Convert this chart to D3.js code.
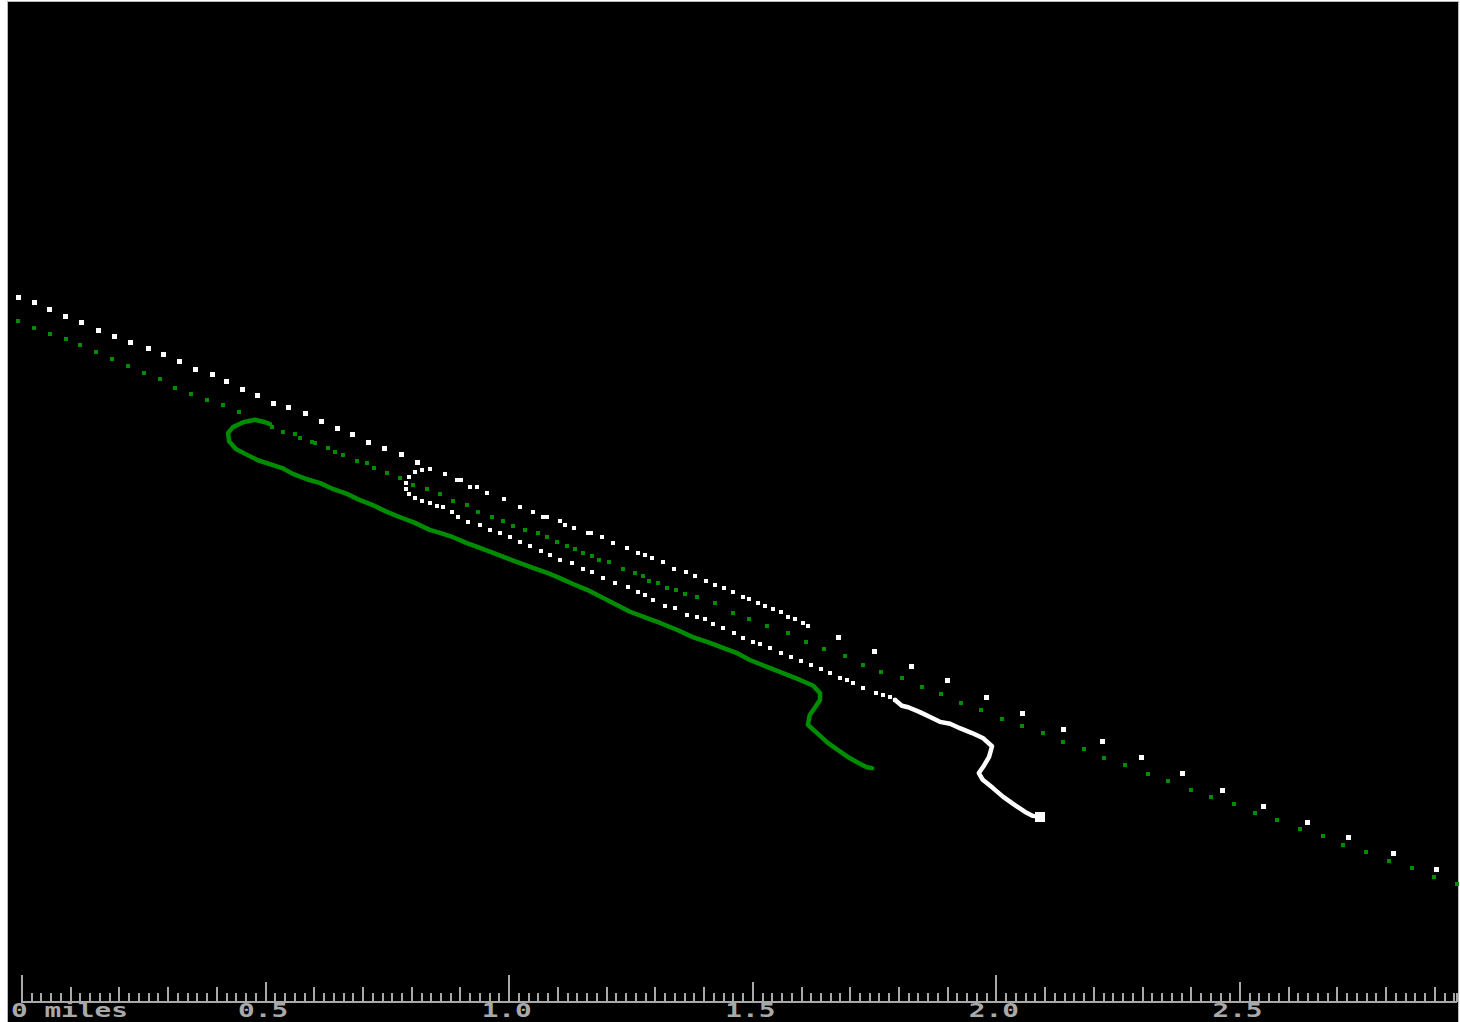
<!DOCTYPE html>
<html>
<head>
<meta charset="utf-8">
<title>Track plot</title>
<script src="https://cdn.jsdelivr.net/npm/d3@7"></script>
<style>
  html, body { margin: 0; padding: 0; background: #fff; }
  svg { display: block; }
</style>
</head>
<body>
<script>
// Positions are [miles east, miles north] measured from the scale bar origin.

// White unit: sparse fixes before and after the pass, dense fixes on the pass, final leg
const whiteRouteA = [[-0.008,1.445],[0.025,1.435],[0.057,1.422],[0.090,1.408],[0.123,1.394],[0.156,1.379],[0.189,1.365],[0.222,1.353],[0.259,1.342],[0.291,1.328],[0.324,1.314],[0.357,1.299],[0.390,1.287],[0.419,1.273],[0.452,1.258],[0.484,1.244],[0.517,1.229],[0.548,1.221],[0.581,1.207],[0.614,1.192],[0.647,1.178],[0.679,1.164],[0.712,1.149],[0.745,1.137],[0.778,1.123],[0.811,1.108]];
const whiteRouteB = [[1.675,0.749],[1.749,0.720],[1.825,0.688],[1.899,0.659],[1.979,0.626],[2.053,0.593],[2.137,0.560],[2.217,0.534],[2.297,0.501],[2.381,0.468],[2.465,0.435],[2.549,0.402],[2.638,0.369],[2.722,0.337],[2.816,0.304],[2.904,0.271]];
const whiteUpper = [[0.837,1.094],[0.868,1.084],[0.893,1.071],[0.901,1.071],[0.920,1.057],[0.934,1.057],[0.954,1.045],[0.989,1.032],[1.022,1.016],[1.049,1.006],[1.069,0.995],[1.078,0.995],[1.104,0.987],[1.115,0.979],[1.133,0.973],[1.162,0.963],[1.168,0.963],[1.190,0.954],[1.213,0.942],[1.242,0.932],[1.264,0.922],[1.279,0.918],[1.293,0.911],[1.316,0.903],[1.338,0.889],[1.363,0.883],[1.381,0.874],[1.404,0.864],[1.422,0.856],[1.441,0.850],[1.459,0.842],[1.480,0.831],[1.492,0.827],[1.511,0.819],[1.525,0.813],[1.541,0.807],[1.558,0.801],[1.572,0.790],[1.587,0.786],[1.603,0.778],[1.613,0.772]];
const whiteTurn = [[0.821,1.092],[0.807,1.088],[0.794,1.078],[0.788,1.065],[0.788,1.053],[0.794,1.043],[0.807,1.035],[0.821,1.028]];
const whiteLower = [[0.837,1.024],[0.852,1.018],[0.864,1.016],[0.883,1.006],[0.895,0.995],[0.915,0.985],[0.940,0.979],[0.961,0.969],[0.981,0.963],[1.002,0.954],[1.022,0.944],[1.043,0.936],[1.065,0.926],[1.084,0.918],[1.104,0.907],[1.129,0.901],[1.151,0.889],[1.170,0.883],[1.192,0.870],[1.217,0.860],[1.244,0.852],[1.264,0.842],[1.279,0.835],[1.295,0.825],[1.320,0.813],[1.340,0.809],[1.365,0.794],[1.385,0.790],[1.402,0.786],[1.418,0.776],[1.439,0.768],[1.461,0.757],[1.480,0.747],[1.500,0.739],[1.515,0.735],[1.535,0.727],[1.558,0.716],[1.578,0.708],[1.599,0.700],[1.619,0.692],[1.640,0.683],[1.658,0.675],[1.679,0.665],[1.693,0.661],[1.706,0.655],[1.726,0.644],[1.753,0.634],[1.767,0.630],[1.782,0.626],[1.792,0.620]];
const whiteTail = [[1.792,0.620],[1.806,0.608],[1.819,0.605],[1.843,0.595],[1.864,0.585],[1.884,0.575],[1.905,0.571],[1.925,0.562],[1.950,0.552],[1.972,0.542],[1.991,0.525],[1.985,0.503],[1.975,0.486],[1.964,0.470],[1.972,0.456],[1.993,0.439],[2.014,0.421],[2.038,0.404],[2.059,0.390],[2.075,0.382],[2.089,0.380]];

// Green unit
const greenRouteA = [[-0.008,1.398],[0.025,1.383],[0.057,1.371],[0.090,1.361],[0.119,1.349],[0.152,1.334],[0.185,1.320],[0.218,1.305],[0.250,1.291],[0.283,1.279],[0.314,1.260],[0.347,1.248],[0.380,1.236],[0.413,1.225],[0.445,1.211]];
const greenUpper = [[0.513,1.180],[0.536,1.170],[0.560,1.166],[0.571,1.158],[0.595,1.149],[0.601,1.147],[0.628,1.137],[0.642,1.129],[0.659,1.123],[0.688,1.110],[0.708,1.106],[0.722,1.096],[0.749,1.086],[0.776,1.076],[0.803,1.061],[0.831,1.053],[0.858,1.043],[0.885,1.028],[0.913,1.020],[0.936,1.006],[0.965,0.995],[0.987,0.987],[1.008,0.977],[1.032,0.969],[1.059,0.963],[1.078,0.954],[1.098,0.944],[1.119,0.936],[1.135,0.930],[1.151,0.922],[1.170,0.915],[1.184,0.907],[1.205,0.903],[1.234,0.889],[1.258,0.881],[1.275,0.874],[1.287,0.864],[1.305,0.860],[1.324,0.850],[1.342,0.846],[1.361,0.837],[1.385,0.831]];
const greenRouteB = [[1.422,0.819],[1.459,0.798],[1.492,0.786],[1.529,0.772],[1.572,0.757],[1.609,0.739],[1.646,0.725],[1.689,0.710],[1.726,0.692],[1.763,0.677],[1.806,0.665],[1.847,0.647],[1.886,0.632],[1.927,0.614],[1.968,0.599],[2.011,0.581],[2.053,0.567],[2.096,0.552],[2.137,0.534],[2.180,0.519],[2.221,0.501],[2.264,0.486],[2.311,0.468],[2.352,0.454],[2.399,0.435],[2.440,0.421],[2.488,0.406],[2.531,0.388],[2.576,0.374],[2.623,0.355],[2.670,0.341],[2.711,0.322],[2.759,0.308],[2.806,0.289],[2.853,0.275],[2.898,0.257],[2.945,0.242]];
const greenTrack = [[0.509,1.186],[0.499,1.190],[0.478,1.195],[0.454,1.190],[0.433,1.180],[0.423,1.168],[0.425,1.151],[0.439,1.135],[0.462,1.123],[0.484,1.112],[0.509,1.104],[0.534,1.096],[0.556,1.084],[0.585,1.073],[0.612,1.065],[0.638,1.053],[0.667,1.043],[0.694,1.030],[0.720,1.020],[0.749,1.006],[0.776,0.995],[0.803,0.985],[0.837,0.969],[0.858,0.963],[0.885,0.954],[0.913,0.942],[0.940,0.932],[0.967,0.922],[0.995,0.911],[1.022,0.901],[1.049,0.891],[1.078,0.881],[1.104,0.870],[1.131,0.858],[1.160,0.846],[1.182,0.835],[1.213,0.819],[1.248,0.801],[1.283,0.788],[1.310,0.778],[1.344,0.764],[1.377,0.749],[1.412,0.737],[1.439,0.727],[1.468,0.716],[1.494,0.702],[1.529,0.688],[1.562,0.675],[1.597,0.661],[1.624,0.649],[1.638,0.634],[1.638,0.620],[1.628,0.605],[1.617,0.589],[1.613,0.569],[1.632,0.552],[1.654,0.532],[1.675,0.517],[1.695,0.503],[1.716,0.491],[1.734,0.482],[1.745,0.480]];

// Scale bar
const scaleLength = 2.945;                 // miles covered by the bar
const tickStep = 0.02;                     // miles between minor ticks
const labelValues = [0, 0.5, 1.0, 1.5, 2.0, 2.5];
const labelTexts = ["0 miles", "0.5", "1.0", "1.5", "2.0", "2.5"];

const W = 1460, H = 1022;
const PX_PER_MILE = 487.2;
const BASE_Y = 1002;

const x = d3.scaleLinear().domain([0, 1]).range([22, 22 + PX_PER_MILE]);
const y = d3.scaleLinear().domain([0, 1]).range([BASE_Y, BASE_Y - PX_PER_MILE]);

const WHITE = "#ffffff", GREEN = "#008c00", GREY = "#a9a9a9";

const svg = d3.select("body").append("svg")
  .attr("width", W).attr("height", H)
  .attr("viewBox", `0 0 ${W} ${H}`);

// Screen frame
svg.append("rect").attr("x", 7).attr("y", 1).attr("width", 1452).attr("height", H - 1).attr("fill", "#b8b8b8");
svg.append("rect").attr("x", 8).attr("y", 2).attr("width", 1450).attr("height", H - 2).attr("fill", "#000");

const plot = svg.append("g");

function drawDots(data, color, size) {
  plot.append("g").attr("shape-rendering", "crispEdges")
    .selectAll("rect").data(data).join("rect")
    .attr("x", d => Math.round(x(d[0]) - size / 2))
    .attr("y", d => Math.round(y(d[1]) - size / 2))
    .attr("width", size).attr("height", size)
    .attr("fill", color);
}

const line = d3.line().x(d => x(d[0])).y(d => y(d[1]));

function drawPath(data, color, width) {
  plot.append("path").datum(data)
    .attr("d", line)
    .attr("fill", "none")
    .attr("stroke", color)
    .attr("stroke-width", width)
    .attr("stroke-linejoin", "round")
    .attr("stroke-linecap", "round");
}

// Green unit
drawDots(greenRouteA, GREEN, 4);
drawDots(greenUpper, GREEN, 4);
drawDots(greenRouteB, GREEN, 4);
drawPath(greenTrack, GREEN, 4.5);

// White unit
drawDots(whiteRouteA, WHITE, 5);
drawDots(whiteRouteB, WHITE, 5);
drawDots(whiteUpper, WHITE, 4);
drawDots(whiteTurn, WHITE, 4);
drawDots(whiteLower, WHITE, 4);
drawPath(whiteTail, WHITE, 4.5);
// current position marker at the end of the white leg
drawDots([whiteTail[whiteTail.length - 1]], WHITE, 10);

// Scale bar
const axis = svg.append("g").attr("shape-rendering", "crispEdges");
axis.append("line")
  .attr("x1", x(0) - 1).attr("x2", x(scaleLength))
  .attr("y1", BASE_Y - 0.5).attr("y2", BASE_Y - 0.5)
  .attr("stroke", GREY).attr("stroke-width", 2);

const nTicks = Math.floor(scaleLength / tickStep + 1e-6);
const tickIdx = d3.range(0, nTicks + 1);
axis.selectAll("line.tick").data(tickIdx).join("line")
  .attr("class", "tick")
  .attr("x1", i => x(i * tickStep)).attr("x2", i => x(i * tickStep))
  .attr("y1", BASE_Y)
  .attr("y2", i => BASE_Y - (i % 50 === 0 ? 27 : i % 25 === 0 ? 20 : i % 5 === 0 ? 15 : 9))
  .attr("stroke", GREY).attr("stroke-width", 2);
// closing tick at the end of the bar
axis.append("line")
  .attr("x1", x(scaleLength)).attr("x2", x(scaleLength))
  .attr("y1", BASE_Y).attr("y2", BASE_Y - 9)
  .attr("stroke", GREY).attr("stroke-width", 2);

const labels = svg.append("g")
  .attr("font-family", "'DejaVu Sans Mono', 'Liberation Mono', monospace")
  .attr("font-weight", "bold")
  .attr("font-size", 19)
  .attr("fill", GREY);

labels.selectAll("text").data(labelValues).join("text")
  .attr("text-anchor", (d, i) => i === 0 ? "start" : "middle")
  .attr("transform", (d, i) => i === 0
    ? `translate(${x(d) - 11},1017) scale(1.46,1)`
    : `translate(${x(d) - 2.5},1017) scale(1.46,1)`)
  .text((d, i) => labelTexts[i]);
</script>
</body>
</html>
